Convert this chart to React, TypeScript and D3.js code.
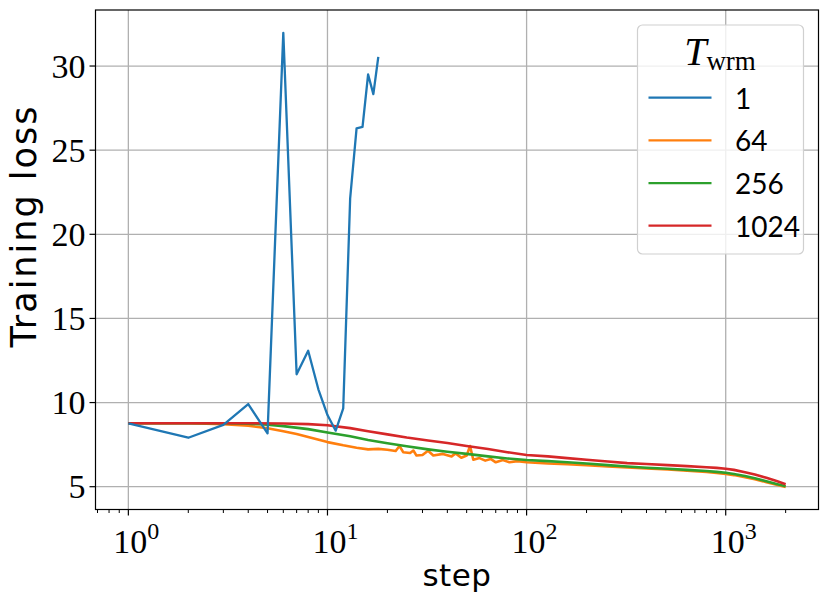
import React, { useEffect, useRef } from "react";
import * as d3 from "d3";

// T_wrm = 1 (diverges, logged only for the first steps)
const steps1 = [1, 2, 3, 4, 5, 6, 7, 8, 9, 10, 11, 12, 13, 14, 15, 16, 17, 18];
const loss1 = [8.77, 7.91, 8.67, 9.91, 8.17, 31.97, 11.68, 13.08, 10.79, 9.26, 8.33, 9.66, 22.14, 26.3, 26.39, 29.5, 28.33, 30.55];

// T_wrm = 64
const steps64 = [1, 2, 3, 4, 5, 6, 7, 8, 10, 12, 14, 16, 18, 20, 22, 23, 24, 26, 27, 28, 30, 32, 34, 38, 42, 44, 47, 50, 52, 54, 58, 62, 66, 70, 76, 82, 90, 100, 128, 160, 200, 256, 320, 400, 512, 640, 800, 900, 1000, 1100, 1250, 1400, 1600, 1800, 2000];
const loss64 = [8.77, 8.77, 8.72, 8.62, 8.47, 8.3, 8.13, 7.96, 7.65, 7.46, 7.32, 7.22, 7.25, 7.2, 7.12, 7.42, 7.05, 7.0, 7.15, 6.85, 6.88, 7.14, 6.85, 6.95, 6.8, 6.98, 6.72, 6.85, 7.42, 6.6, 6.7, 6.55, 6.65, 6.45, 6.58, 6.45, 6.52, 6.45, 6.38, 6.33, 6.28, 6.2, 6.15, 6.08, 6.02, 5.95, 5.87, 5.82, 5.76, 5.69, 5.57, 5.45, 5.27, 5.11, 4.98];

// T_wrm = 256
const steps256 = [1, 3, 4, 5, 6, 8, 10, 13, 16, 20, 25, 32, 40, 50, 64, 80, 100, 128, 160, 200, 256, 320, 400, 512, 640, 800, 900, 1000, 1100, 1250, 1400, 1600, 1800, 2000];
const loss256 = [8.77, 8.77, 8.74, 8.68, 8.6, 8.42, 8.22, 8.0, 7.78, 7.58, 7.4, 7.22, 7.08, 6.95, 6.8, 6.68, 6.59, 6.52, 6.45, 6.38, 6.28, 6.2, 6.13, 6.07, 6.0, 5.93, 5.88, 5.83, 5.76, 5.63, 5.5, 5.32, 5.16, 5.03];

// T_wrm = 1024
const steps1024 = [1, 4, 6, 8, 10, 13, 16, 20, 25, 32, 40, 50, 64, 80, 100, 128, 160, 200, 256, 320, 400, 512, 640, 800, 900, 1000, 1100, 1250, 1400, 1600, 1800, 2000];
const loss1024 = [8.77, 8.77, 8.76, 8.72, 8.65, 8.48, 8.3, 8.11, 7.92, 7.75, 7.6, 7.42, 7.24, 7.05, 6.88, 6.8, 6.7, 6.6, 6.5, 6.4, 6.35, 6.28, 6.22, 6.16, 6.12, 6.07, 6.0, 5.86, 5.72, 5.53, 5.34, 5.15];

const legendLabels = ["1", "64", "256", "1024"];
const colors = ["#1f77b4", "#ff7f0e", "#2ca02c", "#d62728"];
const xTickExps = [0, 1, 2, 3];
const yTicks = [5, 10, 15, 20, 25, 30];

const W = 830;
const H = 605;
const margin = { top: 10, right: 11.5, bottom: 95.5, left: 95.5 };

const serif = "'Liberation Serif', 'DejaVu Serif', serif";
const sans = "'DejaVu Sans', sans-serif";

export default function App() {
  const svgRef = useRef<SVGSVGElement>(null);

  useEffect(() => {
    if (!svgRef.current) return;
    const svg = d3.select(svgRef.current);
    svg.selectAll("*").remove();

    const iw = W - margin.left - margin.right;
    const ih = H - margin.top - margin.bottom;

    const x = d3
      .scaleLog()
      .domain([Math.pow(10, -0.165), Math.pow(10, 3.466)])
      .range([0, iw]);
    const y = d3.scaleLinear().domain([3.645, 33.33]).range([ih, 0]);

    const g = svg
      .append("g")
      .attr("transform", `translate(${margin.left},${margin.top})`);

    // grid
    g.selectAll("line.vgrid")
      .data(xTickExps)
      .join("line")
      .attr("x1", (d) => x(Math.pow(10, d)))
      .attr("x2", (d) => x(Math.pow(10, d)))
      .attr("y1", 0)
      .attr("y2", ih)
      .attr("stroke", "#b0b0b0")
      .attr("stroke-width", 1.3);
    g.selectAll("line.hgrid")
      .data(yTicks)
      .join("line")
      .attr("x1", 0)
      .attr("x2", iw)
      .attr("y1", (d) => y(d))
      .attr("y2", (d) => y(d))
      .attr("stroke", "#b0b0b0")
      .attr("stroke-width", 1.3);

    // lines
    const series = [
      { steps: steps1, loss: loss1 },
      { steps: steps64, loss: loss64 },
      { steps: steps256, loss: loss256 },
      { steps: steps1024, loss: loss1024 },
    ];
    const line = d3
      .line<[number, number]>()
      .x((d) => x(d[0]))
      .y((d) => y(d[1]));

    const drawOrder = [1, 2, 3, 0];
    drawOrder.forEach((i) => {
      const s = series[i];
      const pts = s.steps.map((st, j) => [st, s.loss[j]] as [number, number]);
      g.append("path")
        .datum(pts)
        .attr("fill", "none")
        .attr("stroke", colors[i])
        .attr("stroke-width", i === 0 ? 2.3 : 2.6)
        .attr("stroke-linejoin", "round")
        .attr("d", line);
    });

    // spines
    g.append("rect")
      .attr("width", iw)
      .attr("height", ih)
      .attr("fill", "none")
      .attr("stroke", "#000")
      .attr("stroke-width", 1.2);

    // x ticks
    const [d0, d1] = x.domain();
    const minor: number[] = [];
    for (let e = -1; e <= 3; e++) {
      for (let m = 2; m <= 9; m++) {
        const v = m * Math.pow(10, e);
        if (v >= d0 && v <= d1) minor.push(v);
      }
    }
    g.selectAll("line.xminor")
      .data(minor)
      .join("line")
      .attr("x1", (d) => x(d))
      .attr("x2", (d) => x(d))
      .attr("y1", ih)
      .attr("y2", ih + 3.5)
      .attr("stroke", "#000")
      .attr("stroke-width", 1);
    g.selectAll("line.xmajor")
      .data(xTickExps)
      .join("line")
      .attr("x1", (d) => x(Math.pow(10, d)))
      .attr("x2", (d) => x(Math.pow(10, d)))
      .attr("y1", ih)
      .attr("y2", ih + 6)
      .attr("stroke", "#000")
      .attr("stroke-width", 1.2);

    const xl = g
      .selectAll("text.xtl")
      .data(xTickExps)
      .join("text")
      .attr("x", (d) => x(Math.pow(10, d)) + 8)
      .attr("y", ih + 43)
      .attr("text-anchor", "middle")
      .attr("font-family", serif)
      .attr("font-size", 34)
      .attr("fill", "#000");
    xl.append("tspan").text("10");
    xl.append("tspan")
      .attr("dy", -14)
      .attr("font-size", 24)
      .text((d) => String(d));

    // y ticks
    g.selectAll("line.ymajor")
      .data(yTicks)
      .join("line")
      .attr("x1", -6)
      .attr("x2", 0)
      .attr("y1", (d) => y(d))
      .attr("y2", (d) => y(d))
      .attr("stroke", "#000")
      .attr("stroke-width", 1.2);
    g.selectAll("text.ytl")
      .data(yTicks)
      .join("text")
      .attr("x", -10)
      .attr("y", (d) => y(d) + 11.5)
      .attr("text-anchor", "end")
      .attr("font-family", serif)
      .attr("font-size", 34)
      .attr("fill", "#000")
      .text((d) => String(d));

    // axis labels
    svg
      .append("text")
      .attr("x", margin.left + iw / 2)
      .attr("y", 586)
      .attr("text-anchor", "middle")
      .attr("font-family", sans)
      .attr("font-size", 31)
      .attr("letter-spacing", 0.5)
      .attr("fill", "#000")
      .text("step");
    svg
      .append("text")
      .attr("transform", "translate(36,226) rotate(-90)")
      .attr("text-anchor", "middle")
      .attr("font-family", sans)
      .attr("font-size", 35)
      .attr("letter-spacing", 2)
      .attr("fill", "#000")
      .text("Training loss");

    // legend
    const lg = svg.append("g");
    lg.append("rect")
      .attr("x", 637.5)
      .attr("y", 25)
      .attr("width", 166)
      .attr("height", 229)
      .attr("rx", 5)
      .attr("fill", "#fff")
      .attr("fill-opacity", 0.8)
      .attr("stroke", "#d0d0d0")
      .attr("stroke-width", 1.2);
    const title = lg
      .append("text")
      .attr("x", 720)
      .attr("y", 65)
      .attr("text-anchor", "middle")
      .attr("font-family", serif)
      .attr("fill", "#000");
    title.append("tspan").attr("font-style", "italic").attr("font-size", 40).text("T");
    title.append("tspan").attr("font-size", 27).attr("dy", 5).text("wrm");

    const rowY = d3.scaleLinear().domain([0, 3]).range([97.7, 225.7]);
    legendLabels.forEach((lab, i) => {
      lg.append("line")
        .attr("x1", 648.5)
        .attr("x2", 711.5)
        .attr("y1", rowY(i))
        .attr("y2", rowY(i))
        .attr("stroke", colors[i])
        .attr("stroke-width", 2.3);
      lg.append("text")
        .attr("x", 735)
        .attr("y", rowY(i) + 11)
        .attr("font-family", "Lato, 'DejaVu Sans', sans-serif")
        .attr("font-size", 28)
        .attr("fill", "#000")
        .text(lab);
    });
  }, []);

  return (
    <div style={{ position: "absolute", left: 0, top: 0 }}>
      <svg ref={svgRef} width={W} height={H} style={{ display: "block", background: "#fff" }} />
    </div>
  );
}
